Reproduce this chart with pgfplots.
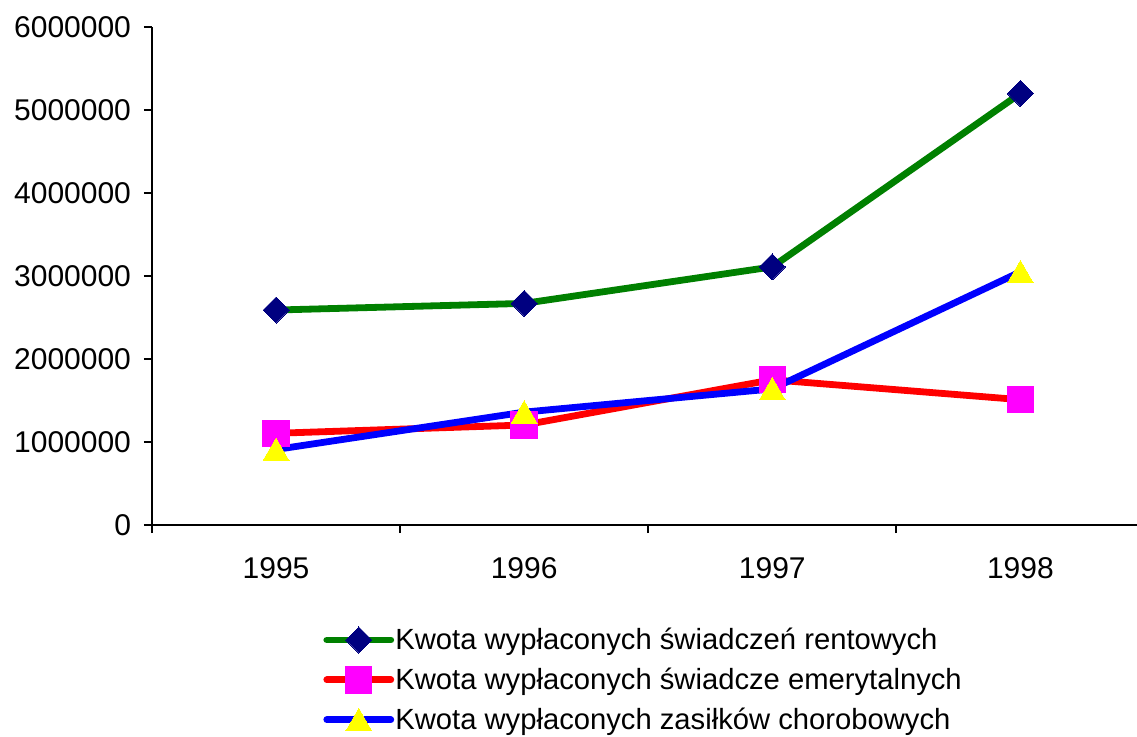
\documentclass[border=0pt]{standalone}
\usepackage{pgfplots}
\pgfplotsset{compat=1.18}
\usepackage{fontspec}
\setmainfont{Liberation Sans}
\definecolor{cgreen}{RGB}{0,128,0}
\definecolor{cnavy}{RGB}{0,0,128}
\definecolor{cred}{RGB}{255,0,0}
\definecolor{cmag}{RGB}{255,0,255}
\definecolor{cblue}{RGB}{0,0,255}
\definecolor{cyel}{RGB}{255,255,0}
\begin{document}
\begin{tikzpicture}
\useasboundingbox (0,0) rectangle (568.5bp,-368.5bp);
\begin{axis}[
  at={(76bp,-262.5bp)}, anchor=south west,
  scale only axis, width=492.5bp, height=249bp,
  xmin=-0.5, xmax=3.47, ymin=0, ymax=6000000,
  axis lines=left, axis line style={-, line width=1bp, black},
  tick align=outside, major tick length=4bp,
  every tick/.style={black, line width=1bp},
  xtick={-0.5,0.5,1.5,2.5}, xticklabels={},
  extra x ticks={0,1,2,3}, extra x tick labels={1995,1996,1997,1998},
  extra x tick style={major tick length=0pt, tick label style={yshift=-13bp}},
  ytick={0,1000000,2000000,3000000,4000000,5000000,6000000},
  scaled y ticks=false,
  yticklabel style={/pgf/number format/fixed, /pgf/number format/1000 sep={}, xshift=-3bp},
  tick label style={font=\fontsize{15bp}{18bp}\selectfont, /pgf/number format/assume math mode=true},
  clip=false,
  legend cell align=left,
  legend image code/.code={\draw[#1, mark repeat=2, mark phase=2, line cap=round] plot coordinates {(0bp,0bp) (16bp,0bp) (32bp,0bp)};},
  legend style={at={(axis description cs:0.1736,-0.311)}, anchor=west, draw=none, fill=none, inner sep=0pt, row sep=6.5bp,
    nodes={inner sep=0.6bp, anchor=west}, font=\fontsize{14.6bp}{18bp}\selectfont},
]
\addplot[cgreen, line width=3.4bp, mark=square*, mark size=4.6bp, mark options={rotate=45, fill=cnavy, draw=cnavy, line width=0pt}]
  coordinates {(0,2590000) (1,2670000) (2,3110000) (3,5200000)};
\addlegendentry{Kwota wypłaconych świadczeń rentowych}
\addplot[cred, line width=3.4bp, mark=square*, mark size=6.6bp, mark options={fill=cmag, draw=cmag, line width=0pt}]
  coordinates {(0,1105000) (1,1205000) (2,1750000) (3,1510000)};
\addlegendentry{Kwota wypłaconych świadcze emerytalnych}
\addplot[cblue, line width=3.4bp, mark=triangle*, mark size=7.5bp, mark options={fill=cyel, draw=cyel, line width=0pt, yshift=-1.8bp}]
  coordinates {(0,910000) (1,1360000) (2,1640000) (3,3050000)};
\addlegendentry{Kwota wypłaconych zasiłków chorobowych}
\end{axis}
\end{tikzpicture}
\end{document}
